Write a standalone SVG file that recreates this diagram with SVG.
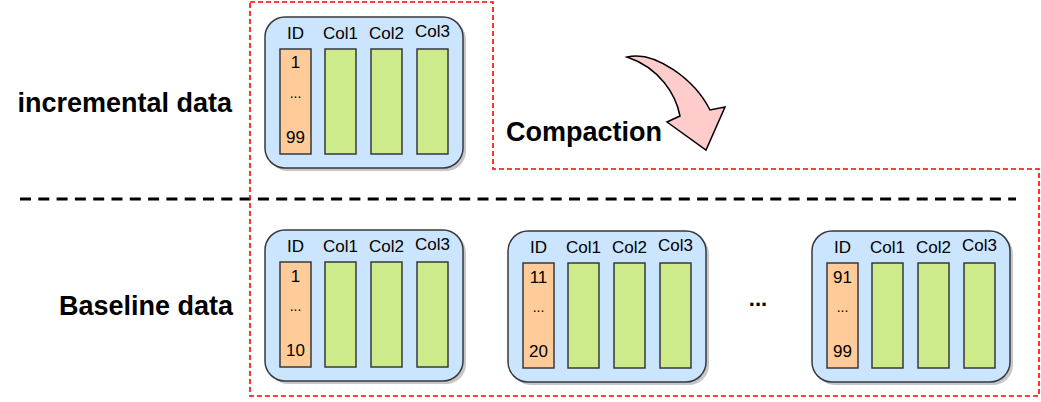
<svg xmlns="http://www.w3.org/2000/svg" width="1041" height="402" viewBox="0 0 1041 402">
<style>
.box{fill:#cce5ff;stroke:#36393d;stroke-width:1.5}
.shadow{fill:#000;opacity:0.22}
.id{fill:#ffcc99;stroke:#36393d;stroke-width:1.5}
.col{fill:#cdeb8b;stroke:#36393d;stroke-width:1.5}
.h{font-family:"Liberation Sans",Arial,sans-serif;font-size:17px;fill:#000;text-anchor:middle}
.n{font-family:"Liberation Sans",Arial,sans-serif;font-size:17px;fill:#000;text-anchor:middle}
.d{font-family:"Liberation Sans",Arial,sans-serif;font-size:14px;fill:#000;text-anchor:middle}
.lbl{font-family:"Liberation Sans",Arial,sans-serif;font-size:27px;font-weight:bold;fill:#000}
</style>
<defs>
<g id="tbl">
<rect class="shadow" x="3" y="3" width="198" height="151" rx="20"/>
<rect class="box" x="0" y="0" width="198" height="151" rx="20"/>
<rect class="id" x="15" y="32" width="31" height="105"/>
<rect class="col" x="60" y="32" width="31" height="105"/>
<rect class="col" x="106" y="32" width="31" height="105"/>
<rect class="col" x="152" y="32" width="31" height="105"/>
<text class="h" x="30.5" y="22">ID</text>
<text class="h" x="75.5" y="22">Col1</text>
<text class="h" x="121.5" y="22">Col2</text>
<text class="h" x="167.5" y="20">Col3</text>
<text class="d" x="30.5" y="81">...</text>
</g>
</defs>
<g id="connectors">
<path d="M20,199 H1016" fill="none" stroke="#000" stroke-width="3" stroke-dasharray="11 7.3"/>
<path d="M250,2 H493 V169 H1039 V396 H250 Z" fill="none" stroke="#ff0000" stroke-width="1.6" stroke-dasharray="5 3"/>
<path d="M627,57 C655,50 695,80 710,110 L725,107 L706,150 L667,122 L680,116 C676,95 660,68 627,57 Z" fill="#ffcccc" stroke="#000" stroke-width="1.5" stroke-linejoin="miter"/>
</g>
<g id="label-incremental"><text class="lbl" x="232" y="112" text-anchor="end">incremental data</text></g>
<g id="label-baseline"><text class="lbl" x="233" y="315" text-anchor="end">Baseline data</text></g>
<g id="label-compaction"><text class="lbl" x="506" y="141">Compaction</text></g>
<g id="incremental-table">
<use href="#tbl" x="265" y="17"/>
<text class="n" x="295.5" y="68">1</text>
<text class="n" x="295.5" y="143">99</text>
</g>
<g id="baseline-table-1">
<use href="#tbl" x="265" y="230"/>
<text class="n" x="295.5" y="282">1</text>
<text class="n" x="295.5" y="356">10</text>
</g>
<g id="baseline-table-2">
<use href="#tbl" x="508" y="231"/>
<text class="n" x="538.5" y="283">11</text>
<text class="n" x="538.5" y="357">20</text>
</g>
<g id="ellipsis"><text x="758" y="306" font-family="Liberation Sans,Arial,sans-serif" font-size="22" font-weight="bold" text-anchor="middle">...</text></g>
<g id="baseline-table-3">
<use href="#tbl" x="812" y="231"/>
<text class="n" x="842.5" y="283">91</text>
<text class="n" x="842.5" y="357">99</text>
</g>
</svg>
